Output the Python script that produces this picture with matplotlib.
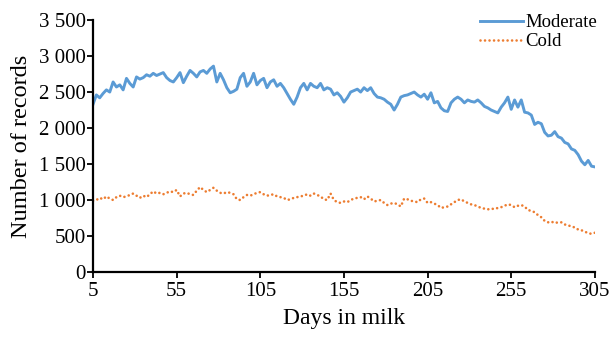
import numpy as np
import matplotlib
matplotlib.use("Agg")
import matplotlib.pyplot as plt
from matplotlib.ticker import FuncFormatter

# ===== dados (a cada 2 dias de lactação) =====
first_day = 5
step_days = 2

moderate = [
    2330, 2460, 2420, 2480, 2530, 2500, 2640, 2570, 2600, 2530,
    2690, 2620, 2570, 2710, 2680, 2700, 2740, 2720, 2760, 2730,
    2750, 2770, 2700, 2660, 2640, 2700, 2770, 2630, 2720, 2800,
    2760, 2710, 2780, 2800, 2760, 2820, 2860, 2640, 2760, 2670,
    2560, 2490, 2510, 2540, 2700, 2760, 2580, 2640, 2760, 2600,
    2660, 2690, 2560, 2640, 2670, 2580, 2620, 2560, 2480, 2400,
    2330, 2430, 2560, 2620, 2530, 2620, 2580, 2560, 2620, 2530,
    2560, 2540, 2460, 2490, 2440, 2360, 2420, 2500, 2520, 2540,
    2500, 2560, 2520, 2560, 2480, 2430, 2420, 2400, 2360, 2330,
    2250, 2330, 2430, 2450, 2460, 2480, 2500, 2460, 2430, 2470,
    2400, 2490, 2350, 2370, 2280, 2240, 2230, 2350, 2400, 2430,
    2400, 2350, 2390, 2370, 2360, 2390, 2350, 2300, 2280, 2250,
    2230, 2210, 2290, 2350, 2430, 2260, 2390, 2290, 2390, 2220,
    2210, 2180, 2050, 2080, 2060, 1940, 1890, 1900, 1950, 1880,
    1860, 1800, 1780, 1710, 1690, 1630, 1540, 1490, 1550, 1470,
    1460,
]

cold = [
    990, 1000, 1030, 1010, 1050, 1020, 1000, 1040, 1060, 1040,
    1050, 1070, 1090, 1060, 1030, 1060, 1040, 1080, 1120, 1090,
    1100, 1080, 1100, 1120, 1110, 1140, 1050, 1090, 1100, 1080,
    1070, 1130, 1180, 1140, 1110, 1140, 1170, 1130, 1100, 1090,
    1110, 1100, 1080, 1010, 1000, 1040, 1070, 1060, 1080, 1100,
    1110, 1080, 1060, 1070, 1080, 1050, 1040, 1030, 1000, 1010,
    1030, 1040, 1050, 1060, 1080, 1060, 1090, 1070, 1050, 1010,
    1000, 1090, 1000, 970, 960, 980, 970, 1000, 1020, 1030,
    1040, 1010, 1050, 1020, 980, 990, 1000, 960, 930, 950,
    960, 940, 910, 1020, 1010, 990, 980, 970, 1010, 1020,
    960, 970, 950, 930, 890, 900, 910, 940, 970, 1000,
    1010, 980, 960, 940, 930, 910, 890, 880, 870, 880,
    875, 890, 900, 920, 940, 930, 900, 920, 930, 910,
    860, 850, 830, 790, 760, 710, 690, 700, 680, 690,
    690, 660, 650, 630, 620, 590, 580, 560, 540, 530,
    545,
]

days = first_day + step_days * np.arange(len(moderate))

x_ticks = [5, 55, 105, 155, 205, 255, 305]
y_ticks = [0, 500, 1000, 1500, 2000, 2500, 3000, 3500]

# ===== gráfico =====
plt.rcParams["font.family"] = ["Liberation Serif", "DejaVu Serif"]

fig = plt.figure(figsize=(6.12, 3.40), dpi=100)
ax = fig.add_axes([0.152, 0.200, 0.820, 0.741])

ax.plot(days, moderate, color="#5b9bd5", lw=2.1, label="Moderate",
        solid_joinstyle="round")
ax.plot(days, cold, color="#ed7d31", lw=1.9, ls=(0, (0.01, 1.7)),
        dash_capstyle="round", label="Cold")

ax.set_xlim(5, 305)
ax.set_ylim(0, 3500)
ax.set_xticks(x_ticks)
ax.set_yticks(y_ticks)
ax.yaxis.set_major_formatter(
    FuncFormatter(lambda v, p: f"{int(v):,}".replace(",", " ")))

for side in ("top", "right"):
    ax.spines[side].set_visible(False)
for side in ("left", "bottom"):
    ax.spines[side].set_linewidth(1.6)
ax.tick_params(direction="out", length=4, width=1.3, labelsize=15, pad=1)
ax.tick_params(axis="x", pad=3)

ax.set_xlabel("Days in milk", fontsize=17, labelpad=5)
ax.set_ylabel("Number of records", fontsize=17.5, labelpad=5)

ax.legend(loc="upper right", bbox_to_anchor=(1.03, 1.075), frameon=False,
          fontsize=13.5, handlelength=2.3, handletextpad=0.1,
          labelspacing=0.1, borderpad=0.2)

fig.savefig("out.png", dpi=100)
plt.close(fig)
